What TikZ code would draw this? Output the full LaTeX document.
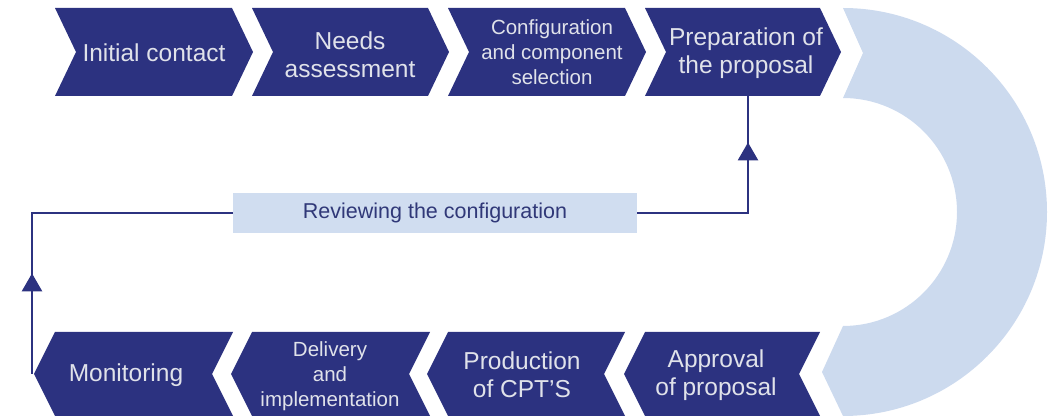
\documentclass[tikz,border=0pt]{standalone}
\usepackage{fontspec}
\setmainfont{Liberation Sans}
\usetikzlibrary{shapes.geometric}
\definecolor{navy}{RGB}{44,50,128}
\definecolor{lightarc}{RGB}{204,218,238}
\definecolor{revfill}{RGB}{208,221,240}
\definecolor{revtext}{RGB}{48,56,120}
\definecolor{chevtext}{RGB}{224,226,234}
\begin{document}
\begin{tikzpicture}[x=1pt,y=-1pt,
  chev/.style={fill=navy},
  lbl/.style={text=chevtext, align=center, inner sep=0pt, font=\fontsize{24.5}{28}\selectfont},
  lblsmall/.style={lbl, font=\fontsize{20.5}{25}\selectfont},
  conn/.style={draw=navy, line width=2.6pt},
  tri/.style={regular polygon, regular polygon sides=3, fill=navy, inner sep=0pt, minimum size=24pt},
  revbox/.style={fill=revfill, minimum width=404pt, minimum height=40pt, inner sep=0pt, text=revtext, font=\fontsize{21.5}{25}\selectfont}]
\useasboundingbox (0,0) rectangle (1050,419);
% big light arc
\fill[lightarc] (843,8) arc[start angle=90, end angle=-90, radius=204pt] -- (822,372) -- (843,326)
  arc[start angle=-90, end angle=90, radius=114pt] -- (863,53) -- cycle;
% top row chevrons
\fill[chev] (55,8) -- (232,8) -- (253,52) -- (232,96) -- (55,96) -- (76,52) -- cycle;
\fill[chev] (252,8) -- (428,8) -- (449,52) -- (428,96) -- (252,96) -- (273,52) -- cycle;
\fill[chev] (448,8) -- (625,8) -- (646,52) -- (625,96) -- (448,96) -- (469,52) -- cycle;
\fill[chev] (645,8) -- (820,8) -- (841,52) -- (820,96) -- (645,96) -- (666,52) -- cycle;
% bottom row chevrons
\fill[chev] (55,332) -- (233,332) -- (212,374) -- (233,416) -- (55,416) -- (34,374) -- cycle;
\fill[chev] (252,332) -- (430,332) -- (409,374) -- (430,416) -- (252,416) -- (231,374) -- cycle;
\fill[chev] (448,332) -- (625,332) -- (604,374) -- (625,416) -- (448,416) -- (427,374) -- cycle;
\fill[chev] (645,332) -- (820,332) -- (799,374) -- (820,416) -- (645,416) -- (624,374) -- cycle;
% labels
\node[lbl] (t1) at (154,53) {Initial contact};
\node[lbl] (t2) at (350,55) {Needs\\assessment};
\node[lblsmall] (t3) at (552,52) {Configuration\\and component\\selection};
\node[lbl] (t4) at (746,53) {Preparation of\\the proposal};
\node[lbl] (b1) at (126,375) {Monitoring};
\node[lblsmall] (b2) at (330,376) {Delivery\\and\\implementation};
\node[lbl] (b3) at (522,375) {Production\\of CPT'S};
\node[lbl] (b4) at (716,375) {Approval\\of proposal};
% review box
\node[revbox] (rev) at (435,213) {Reviewing the configuration};
% connectors
\coordinate (montip) at (32,374);
\coordinate (prepbot) at (748,96);
\draw[conn] (montip) -- (montip |- rev.west) -- (rev.west);
\path (montip) -- (montip |- rev.west) node[tri, pos=0.55] (a1) {};
\draw[conn] (rev.east) -- (rev.east -| prepbot) -- (prepbot);
\path (rev.east -| prepbot) -- (prepbot) node[tri, pos=0.5] (a2) {};
\end{tikzpicture}
\end{document}
